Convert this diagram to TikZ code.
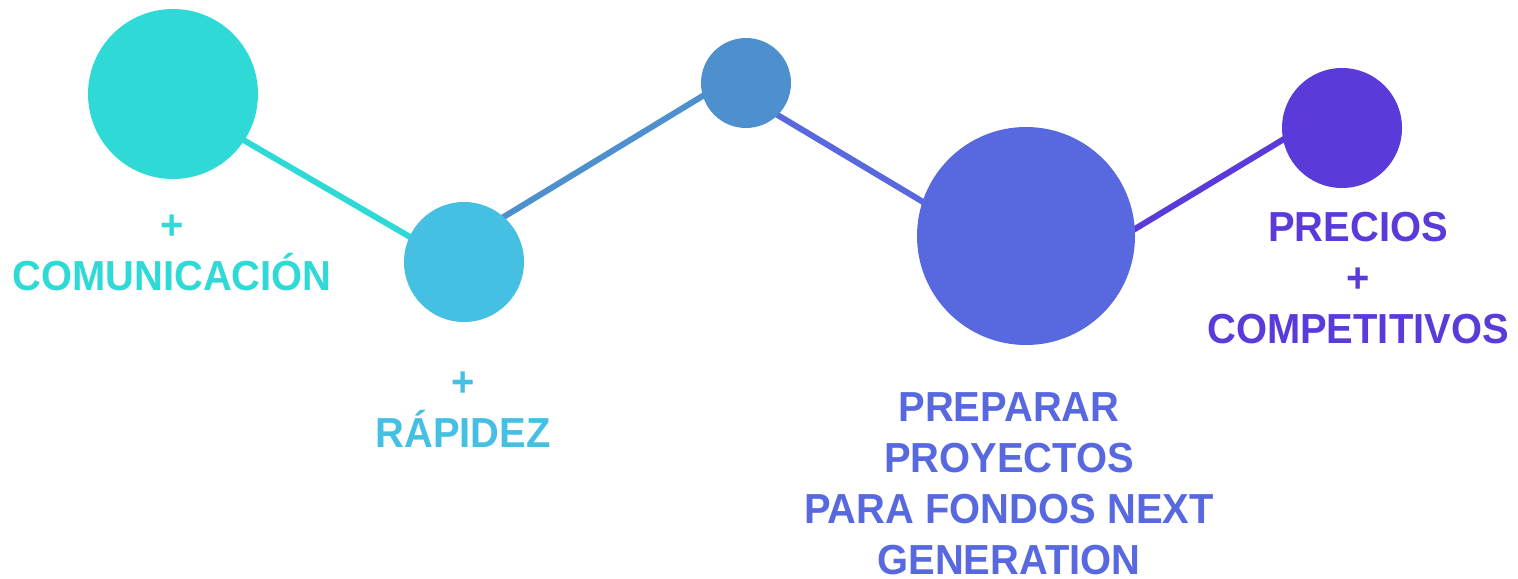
\documentclass[tikz,border=0pt]{standalone}
\usepackage{fontspec}
\setmainfont{Liberation Sans}[FakeStretch=0.95]
\usepackage{tikz}
\usetikzlibrary{calc}

\definecolor{turquesa}{HTML}{2FDAD6}
\definecolor{celeste}{HTML}{45C0E2}
\definecolor{acero}{HTML}{4E8FCD}
\definecolor{indigo}{HTML}{5869DF}
\definecolor{violeta}{HTML}{5A3BD9}

\begin{document}
\begin{tikzpicture}[x=0.5pt, y=-0.5pt,
        dot/.style={circle, inner sep=0pt, minimum size=#1},
        link/.style={line width=3pt},
        label/.style={align=center, anchor=base, inner sep=0pt,
            font=\fontsize{21}{25.5}\selectfont\bfseries}]
        % Frame of the picture
        \useasboundingbox (0, 0) rectangle (1518, 578);

        % Bends of the zigzag line
        \coordinate (k1) at (173, 99);
        \coordinate (k2) at (441, 255);
        \coordinate (k3) at (724, 83);
        \coordinate (k4) at (1052, 279);
        \coordinate (k5) at (1342, 104);

        % Line segments, drawn under the dots
        \begin{scope}[link]
            \draw[turquesa] (k1) -- (k2);
            \draw[acero] (k2) -- (k3);
            \draw[indigo] (k3) -- (k4);
            \draw[violeta] (k4) -- (k5);
        \end{scope}

        % Dots
        \node[dot=85pt, fill=turquesa] (dotCom) at (173, 94) {};
        \node[dot=60pt, fill=celeste] (dotRap) at (464, 262) {};
        \node[dot=45pt, fill=acero] (dotMid) at (746, 83) {};
        \node[dot=109pt, fill=indigo] (dotNext) at (1026, 236) {};
        \node[dot=60pt, fill=violeta] (dotPrec) at (1342, 128) {};

        % Labels (anchored at the baseline of their last line)
        \node[label, text=turquesa] (comunicacion) at (172, 290) {+\\COMUNICACIÓN};
        \node[label, text=celeste] (rapidez) at (463, 447) {+\\RÁPIDEZ};
        \node[label, text=indigo] (fondos) at (1009, 574)
            {PREPARAR\\PROYECTOS\\PARA FONDOS NEXT\\GENERATION};
        \node[label, text=violeta] (precios) at (1358, 343) {PRECIOS\\+\\COMPETITIVOS};

    \end{tikzpicture}
\end{document}
